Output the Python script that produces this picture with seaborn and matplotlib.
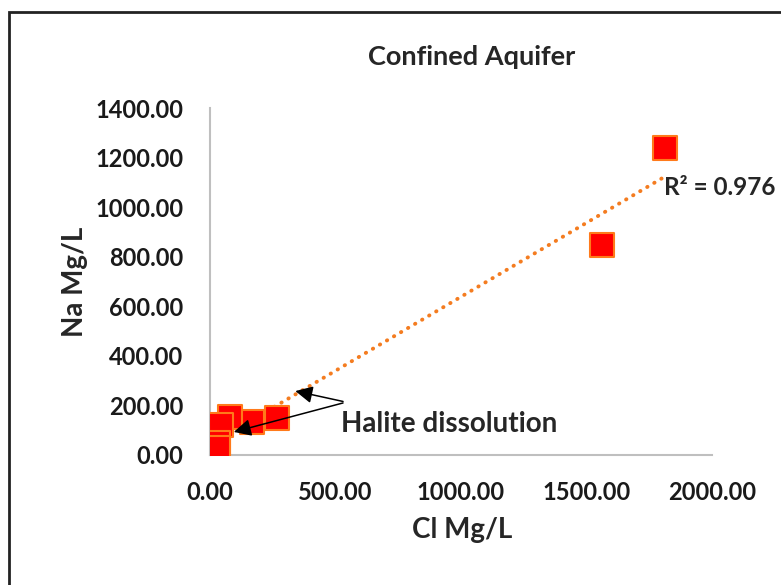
import matplotlib
matplotlib.use("Agg")
import matplotlib.pyplot as plt
import seaborn as sns
import pandas as pd
from matplotlib.patches import Rectangle

# Data
cl_values = [1813, 1562, 267, 167, 80, 44, 32, 32]
na_values = [1238, 847, 149, 133, 153, 121, 48, 28]
x_ticks = [0, 500, 1000, 1500, 2000]
y_ticks = [0, 200, 400, 600, 800, 1000, 1200, 1400]
title_text = "Confined Aquifer"
x_label = "Cl Mg/L"
y_label = "Na Mg/L"
r2_text = "R² = 0.976"
note_text = "Halite dissolution"

df = pd.DataFrame({"Cl": cl_values, "Na": na_values})

sns.set_style("white")
plt.rcParams["font.family"] = ["Lato", "DejaVu Sans"]

fig = plt.figure(figsize=(7.81, 5.85), dpi=100)
ax = fig.add_axes([210 / 781, 1 - 455 / 585, (712 - 210) / 781, (455 - 108) / 585])

# trend line (linear fit)
sns.regplot(data=df, x="Cl", y="Na", ax=ax, ci=None, scatter=False, truncate=True,
            line_kws=dict(color="#F47C20", lw=2.8, linestyle=(0, (0.1, 2.0)),
                          dash_capstyle="round", zorder=2))
sns.scatterplot(data=df, x="Cl", y="Na", ax=ax, marker="s", s=300,
                color="#FF0000", edgecolor="#FF7A1A", linewidth=1.5, zorder=3,
                legend=False)

ax.set_xlim(0, 2000)
ax.set_ylim(0, 1400)
ax.set_xticks(x_ticks)
ax.set_yticks(y_ticks)
ax.set_xticklabels([f"{v:.2f}" for v in x_ticks], fontsize=17, fontweight="bold")
ax.set_yticklabels([f"{v:.2f}" for v in y_ticks], fontsize=17, fontweight="bold")
ax.tick_params(axis="y", length=0, pad=19, colors="#1a1a1a")
ax.tick_params(axis="x", length=0, pad=19, colors="#1a1a1a")
ax.set_xlabel("")
ax.set_ylabel("")
for s in ["top", "right"]:
    ax.spines[s].set_visible(False)
for s in ["left", "bottom"]:
    ax.spines[s].set_color("#BFBFBF")
    ax.spines[s].set_linewidth(1.5)
ax.patch.set_alpha(0)

fig.text(472 / 781, 1 - 57 / 585, title_text, ha="center", va="center",
         fontsize=19.5, fontweight="bold")
fig.text(462 / 781, 1 - 530 / 585, x_label, ha="center", va="center",
         fontsize=20, fontweight="bold")
fig.text(75 / 781, 1 - 282 / 585, y_label, ha="center", va="center",
         fontsize=20, fontweight="bold", rotation=90)

ax.text(1810, 1080, r2_text, ha="left", va="center", fontsize=17.5, fontweight="bold",
        zorder=4)
ax.text(520, 125, note_text, ha="left", va="center", fontsize=20, fontweight="bold")

arrow_kw = dict(arrowstyle="-|>", color="black", lw=1.1, mutation_scale=26,
                shrinkA=0, shrinkB=0)
ax.annotate("", xy=(340, 258), xytext=(530, 216), arrowprops=arrow_kw, zorder=5)
ax.annotate("", xy=(95, 93), xytext=(530, 210), arrowprops=arrow_kw, zorder=5)

fig.patches.append(Rectangle((9 / 781, -0.1), 1.2, 1.1 - 12 / 585,
                             transform=fig.transFigure, fill=False,
                             edgecolor="#222222", lw=2, zorder=0))

fig.savefig("out.png", dpi=100)
